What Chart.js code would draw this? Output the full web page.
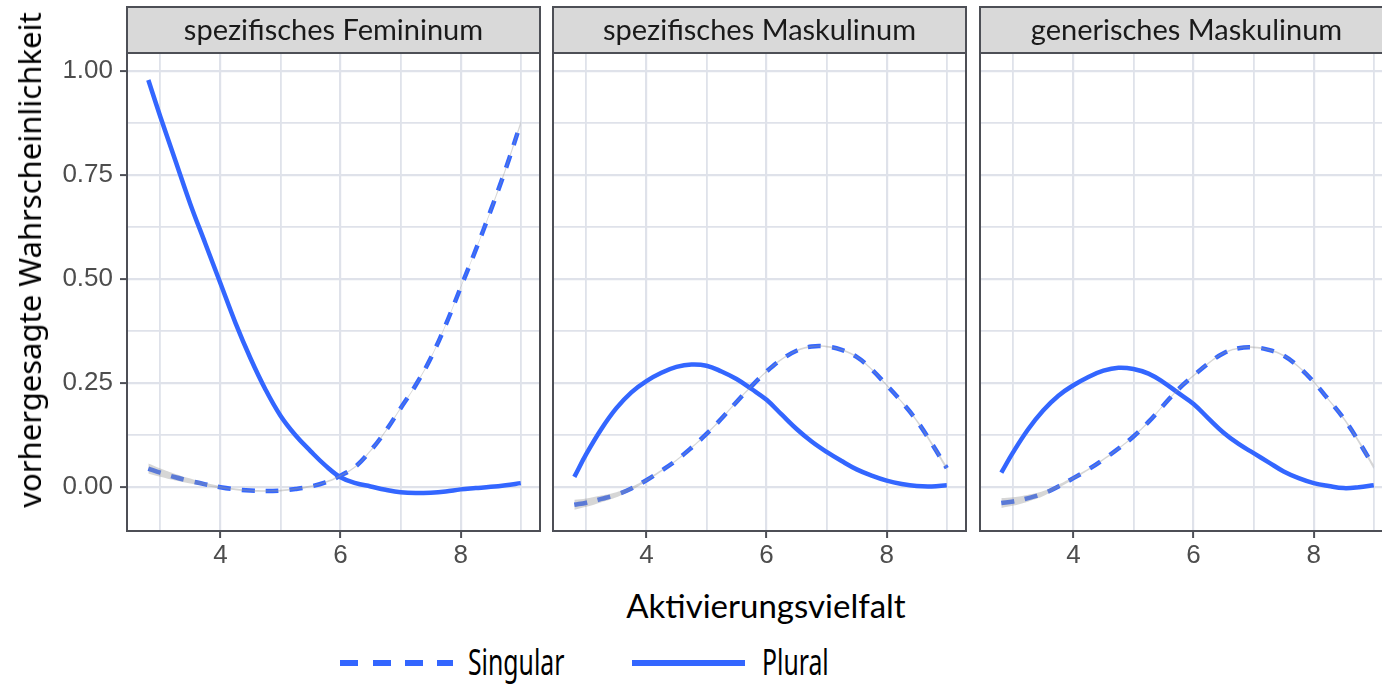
<!DOCTYPE html>
<html>
<head>
<meta charset="utf-8">
<script src="https://cdn.jsdelivr.net/npm/chart.js@4"></script>
<style>
  body { margin: 0; background: #fff; width: 1382px; height: 686px; overflow: hidden; position: relative; }
  canvas { position: absolute; top: 0; }
  .txt { position: absolute; white-space: nowrap; line-height: 1; }
</style>
</head>
<body>
<canvas id="p1" width="546" height="580" style="left:0px"></canvas>
<canvas id="p2" width="423" height="580" style="left:549px"></canvas>
<canvas id="p3" width="423" height="580" style="left:976px"></canvas>

<div class="txt" style="left:29px;top:260px;font:31px 'Noto Sans';color:#000;transform:translate(-50%,-50%) rotate(-90deg)">vorhergesagte Wahrscheinlichkeit</div>
<div class="txt" style="left:766px;top:585px;font:33px Lato;color:#000;transform:translateX(-50%)">Aktivierungsvielfalt</div>

<div style="position:absolute;left:340px;top:660px;width:113px;height:6px;background:repeating-linear-gradient(to right,#3366FF 0 18px,transparent 18px 32.5px)"></div>
<div class="txt" style="left:468px;top:635px;font:37px 'Noto Sans';transform:scaleX(0.67);transform-origin:left top">Singular</div>
<div style="position:absolute;left:632px;top:660px;width:113px;height:6px;background:#3366FF"></div>
<div class="txt" style="left:762px;top:635px;font:37px 'Noto Sans';transform:scaleX(0.67);transform-origin:left top">Plural</div>

<script>
// Facetten
var panels = ['spezifisches Femininum', 'spezifisches Maskulinum', 'generisches Maskulinum'];

// Aktivierungsvielfalt (x)
var xs = [2.8, 3, 3.25, 3.5, 3.75, 4, 4.25, 4.5, 4.75, 5, 5.25, 5.5, 5.75, 6, 6.25, 6.5, 6.75, 7, 7.25, 7.5, 7.75, 8, 8.25, 8.5, 8.75, 9];

// Singular (gestrichelt)
var sgFem = [0.045, 0.035, 0.024, 0.015, 0.007, 0.0, -0.005, -0.008, -0.009, -0.008, -0.004, 0.002, 0.012, 0.028, 0.05, 0.088, 0.135, 0.19, 0.245, 0.31, 0.39, 0.48, 0.57, 0.665, 0.765, 0.875];
var sgMaskSpez = [-0.042, -0.037, -0.028, -0.018, -0.003, 0.017, 0.04, 0.065, 0.095, 0.128, 0.165, 0.205, 0.243, 0.278, 0.307, 0.328, 0.338, 0.338, 0.33, 0.313, 0.283, 0.245, 0.205, 0.16, 0.105, 0.046];
var sgMaskGen = [-0.038, -0.034, -0.026, -0.015, 0.002, 0.022, 0.043, 0.067, 0.093, 0.122, 0.157, 0.197, 0.236, 0.268, 0.298, 0.322, 0.334, 0.336, 0.33, 0.316, 0.289, 0.253, 0.21, 0.165, 0.11, 0.049];
// Standardfehler-Band um Singular
var seSingular = [0.012, 0.01, 0.008, 0.006, 0.004, 0.003, 0.002, 0.002, 0.002, 0.002, 0.002, 0.002, 0.002, 0.002, 0.002, 0.002, 0.002, 0.002, 0.002, 0.002, 0.002, 0.002, 0.002, 0.003, 0.004, 0.005];

// Plural (durchgezogen)
var plFem = [0.978, 0.89, 0.785, 0.68, 0.585, 0.49, 0.395, 0.31, 0.235, 0.172, 0.125, 0.087, 0.052, 0.024, 0.01, 0.002, -0.006, -0.012, -0.014, -0.013, -0.01, -0.005, -0.002, 0.001, 0.005, 0.01];
var plMaskSpez = [0.025, 0.08, 0.14, 0.19, 0.228, 0.255, 0.275, 0.289, 0.295, 0.292, 0.278, 0.26, 0.236, 0.21, 0.175, 0.14, 0.11, 0.085, 0.063, 0.043, 0.028, 0.016, 0.008, 0.003, 0.002, 0.005];
var plMaskGen = [0.035, 0.085, 0.14, 0.185, 0.22, 0.245, 0.265, 0.28, 0.287, 0.284, 0.273, 0.252, 0.226, 0.2, 0.165, 0.131, 0.104, 0.082, 0.06, 0.038, 0.022, 0.01, 0.003, -0.002, 0.0, 0.005];

// Achsen
var xTicks = [4, 6, 8];
var xMinor = [3, 5, 7, 9];
var yTicks = [0, 0.25, 0.5, 0.75, 1];
var yMinor = [0.125, 0.375, 0.625, 0.875];

var blue = '#3366FF';
var gridCol = '#dfe2ea';
var frameCol = '#4d4f56';

var stripPlugin = {
  id: 'strip',
  afterDraw: function (chart, args, opts) {
    var ctx = chart.ctx, a = chart.chartArea;
    ctx.save();
    ctx.lineWidth = 2;
    ctx.strokeStyle = frameCol;
    ctx.strokeRect(a.left, a.top, a.right - a.left, a.bottom - a.top);
    ctx.fillStyle = '#d9d9d9';
    ctx.fillRect(a.left, 7, a.right - a.left, a.top - 7);
    ctx.strokeRect(a.left, 7, a.right - a.left, a.top - 7);
    ctx.fillStyle = '#1a1a1a';
    ctx.font = '29px Lato';
    ctx.textAlign = 'center';
    ctx.textBaseline = 'middle';
    ctx.fillText(opts.text, (a.left + a.right) / 2, (7 + a.top) / 2 + 1);
    ctx.restore();
  }
};

function pts(arr, off) {
  return xs.map(function (x, i) { return { x: x, y: arr[i] + (off ? off[i] : 0) }; });
}
function neg(arr) { return arr.map(function (v) { return -v; }); }

function makePanel(id, idx, sg, pl) {
  var first = idx === 0;
  var ctx = document.getElementById(id).getContext('2d');
  return new Chart(ctx, {
    type: 'line',
    data: {
      datasets: [
        { data: pts(sg, neg(seSingular)), borderWidth: 0, pointRadius: 0, tension: 0.4, fill: false },
        { data: pts(sg, seSingular), borderWidth: 0, pointRadius: 0, tension: 0.4, fill: '-1', backgroundColor: 'rgba(153,153,153,0.4)' },
        { label: 'Plural', data: pts(pl), borderColor: blue, borderWidth: 4.5, pointRadius: 0, tension: 0.4, fill: false },
        { label: 'Singular', data: pts(sg), borderColor: blue, borderWidth: 4.5, borderDash: [13, 11], pointRadius: 0, tension: 0.4, fill: false }
      ]
    },
    options: {
      responsive: false,
      animation: false,
      devicePixelRatio: 1,
      layout: { padding: { top: 53, right: 6, left: 0, bottom: 0 } },
      plugins: { legend: { display: false }, tooltip: { enabled: false }, strip: { text: panels[idx] } },
      scales: {
        x: {
          type: 'linear',
          min: 2.445,
          max: 9.32,
          afterBuildTicks: function (axis) {
            axis.ticks = xTicks.concat(xMinor).sort().map(function (v) { return { value: v }; });
          },
          afterFit: function (axis) { axis.height = 49; },
          border: { display: false },
          grid: {
            color: gridCol,
            lineWidth: function (c) { return xTicks.indexOf(c.tick.value) >= 0 ? 2.2 : 1.8; },
            tickLength: 7,
            tickWidth: 2,
            tickColor: function (c) { return xTicks.indexOf(c.tick.value) >= 0 ? frameCol : 'rgba(0,0,0,0)'; }
          },
          ticks: {
            autoSkip: false,
            maxRotation: 0,
            padding: 2,
            color: '#4d4d4d',
            font: { family: 'Liberation Sans', size: 26 },
            callback: function (v) { return xTicks.indexOf(v) >= 0 ? String(v) : ''; }
          }
        },
        y: {
          min: -0.105,
          max: 1.043,
          afterBuildTicks: function (axis) {
            axis.ticks = yTicks.concat(yMinor).sort().map(function (v) { return { value: v }; });
          },
          afterFit: function (axis) { axis.width = first ? 127 : 4; },
          border: { display: false },
          grid: {
            color: gridCol,
            lineWidth: function (c) { return yTicks.indexOf(c.tick.value) >= 0 ? 2.2 : 1.8; },
            drawTicks: first,
            tickLength: 7,
            tickWidth: 2,
            tickColor: function (c) { return yTicks.indexOf(c.tick.value) >= 0 ? frameCol : 'rgba(0,0,0,0)'; }
          },
          ticks: {
            display: first,
            autoSkip: false,
            padding: 7,
            color: '#4d4d4d',
            font: { family: 'Liberation Sans', size: 26 },
            callback: function (v) { return yTicks.indexOf(v) >= 0 ? v.toFixed(2) : ''; }
          }
        }
      }
    },
    plugins: [stripPlugin]
  });
}

makePanel('p1', 0, sgFem, plFem);
makePanel('p2', 1, sgMaskSpez, plMaskSpez);
makePanel('p3', 2, sgMaskGen, plMaskGen);
</script>
</body>
</html>
